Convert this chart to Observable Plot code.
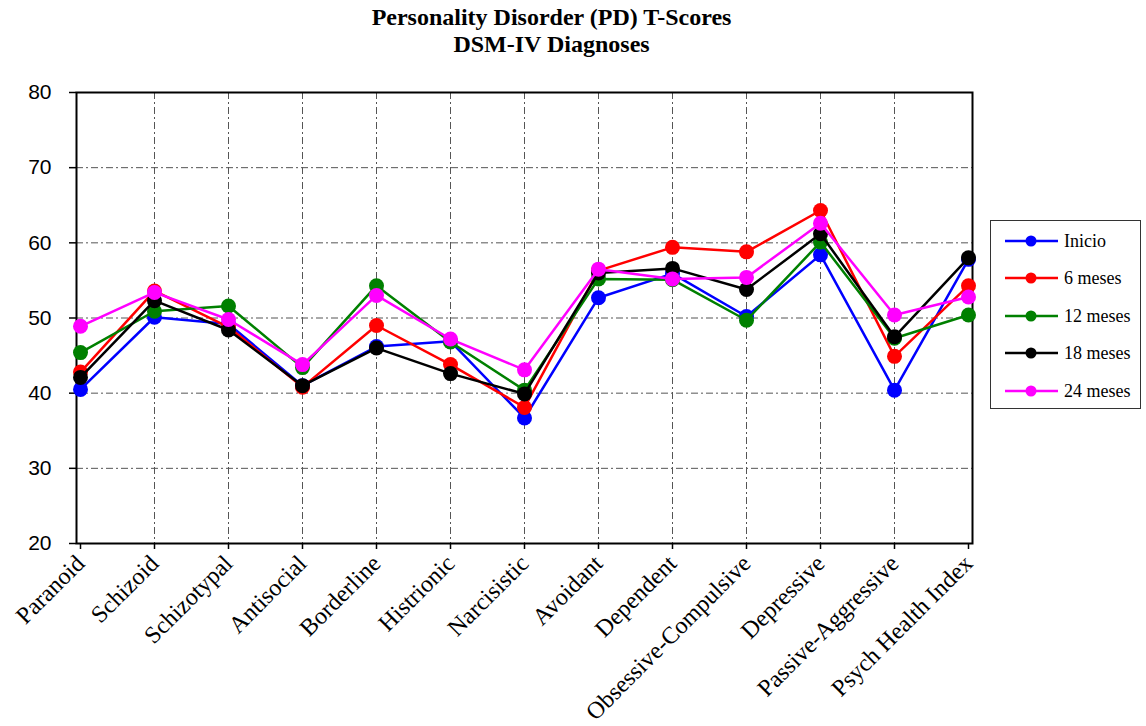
<!DOCTYPE html>
<html>
<head>
<meta charset="utf-8">
<script src="https://cdn.jsdelivr.net/npm/d3@7"></script>
<script src="https://cdn.jsdelivr.net/npm/@observablehq/plot@0.6"></script>
<style>
  html, body { margin: 0; padding: 0; background: #fff; }
  #wrap { position: relative; width: 1146px; height: 726px; overflow: hidden; }
  #title { position: absolute; left: 0; top: 4px; width: 1103px; text-align: center;
    font-family: "Liberation Serif", "Times New Roman", serif; font-weight: bold; font-size: 24px; line-height: 27px; color: #000; }
  #chart { position: absolute; left: 0; top: 72px; }
  #legend { position: absolute; left: 990px; top: 220px; width: 151px; height: 189px;
    border: 1px solid #333; box-sizing: border-box; background: #fff;
    font-family: "Liberation Serif", "Times New Roman", serif; font-size: 18px; }
  .item { position: absolute; left: 14px; height: 20px; display: flex; align-items: center; }
  .item svg { display: block; }
  .item span { margin-left: 6px; white-space: nowrap; }
</style>
</head>
<body>
<div id="wrap">
  <div id="title">Personality Disorder (PD) T-Scores<br>DSM-IV Diagnoses</div>
  <div id="chart"></div>
  <div id="legend"></div>
</div>
<script>
const categories = ["Paranoid","Schizoid","Schizotypal","Antisocial","Borderline","Histrionic","Narcisistic","Avoidant","Dependent","Obsessive-Compulsive","Depressive","Passive-Aggressive","Psych Health Index"];
const seriesNames = ["Inicio","6 meses","12 meses","18 meses","24 meses"];
const seriesColors = ["#0000ff","#ff0000","#008000","#000000","#ff00ff"];
const inicio   = [40.5, 50.1, 49.2, 41.0, 46.2, 46.9, 36.7, 52.7, 55.9, 50.2, 58.4, 40.4, 57.8];
const meses6   = [42.8, 53.6, 48.8, 40.8, 49.0, 43.8, 38.1, 56.3, 59.4, 58.8, 64.3, 44.9, 54.3];
const meses12  = [45.4, 50.9, 51.6, 43.4, 54.3, 46.8, 40.4, 55.2, 55.1, 49.7, 60.1, 47.3, 50.4];
const meses18  = [42.1, 52.3, 48.4, 41.0, 46.0, 42.6, 39.9, 56.0, 56.6, 53.8, 61.2, 47.5, 58.0];
const meses24  = [48.9, 53.4, 49.8, 43.8, 53.0, 47.2, 43.1, 56.5, 55.2, 55.4, 62.6, 50.4, 52.8];
const yTicks = [20, 30, 40, 50, 60, 70, 80];

const seriesValues = [inicio, meses6, meses12, meses18, meses24];
const data = [];
seriesValues.forEach((vals, s) => vals.forEach((v, i) => data.push({series: seriesNames[s], category: categories[i], value: v})));

const W = 1146, H = 654;
const gridStyle = {stroke: "#555", strokeWidth: 1, strokeDasharray: "7,3,2,3"};
const marks = [
  Plot.ruleY(yTicks.slice(1, -1), {y: d => d, ...gridStyle}),
  Plot.ruleX(categories.slice(1, -1), {x: d => d, ...gridStyle}),
  Plot.axisY({ticks: yTicks, tickSize: 7, tickPadding: 18, fontSize: 21, fontFamily: "Liberation Sans, Arial, sans-serif", label: null, stroke: "#000", strokeWidth: 1.5}),
  Plot.axisX({tickSize: 6, tickPadding: 10, tickRotate: -45, fontSize: 24, fontFamily: "Liberation Serif, Times New Roman, serif", label: null, stroke: "#000", strokeWidth: 1.5}),
  Plot.frame({stroke: "#000", strokeWidth: 2})
];
seriesNames.forEach((name, s) => {
  const sub = data.filter(d => d.series === name);
  marks.push(Plot.line(sub, {x: "category", y: "value", stroke: seriesColors[s], strokeWidth: 2.5}));
  marks.push(Plot.dot(sub, {x: "category", y: "value", fill: seriesColors[s], r: 7.5, stroke: "none"}));
});

const chart = Plot.plot({
  width: W, height: H,
  marginTop: 20, marginBottom: 183, marginLeft: 76, marginRight: 174,
  x: {type: "point", domain: categories, padding: 0},
  y: {domain: [20, 80]},
  style: {background: "#fff", color: "#000", overflow: "visible"},
  marks
});
document.getElementById("chart").appendChild(chart);

const legend = document.getElementById("legend");
const tops = [10, 47, 85, 122, 160];
seriesNames.forEach((name, s) => {
  const item = document.createElement("div");
  item.className = "item";
  item.style.top = tops[s] + "px";
  item.innerHTML = `<svg width="53" height="20"><line x1="0" x2="53" y1="10" y2="10" stroke="${seriesColors[s]}" stroke-width="2.5"/><circle cx="26" cy="10" r="5.5" fill="${seriesColors[s]}"/></svg><span>${name}</span>`;
  legend.appendChild(item);
});
</script>
</body>
</html>
